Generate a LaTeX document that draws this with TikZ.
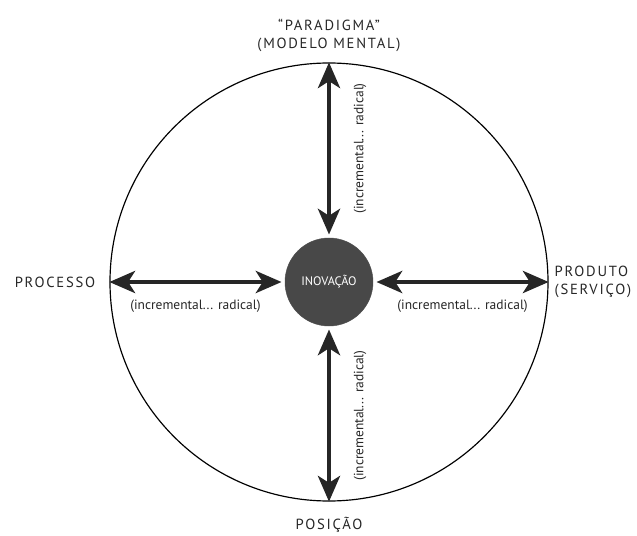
\documentclass[tikz,border=0pt]{standalone}
\usepackage{fontspec}
\setmainfont{PT Sans}
\usetikzlibrary{arrows.meta, positioning}
\definecolor{mydark}{RGB}{72, 72, 72}

\begin{document}
\begin{tikzpicture}[x=0.03cm, y=-0.03cm,
    twoway/.style={{Stealth[length=22pt, width=19pt, inset=6pt]}-{Stealth[length=22pt, width=19pt, inset=6pt]}, line width=3pt, draw=black!85},
    poletext/.style={font=\fontsize{12.5}{15}\selectfont\addfontfeatures{LetterSpace=12}, align=center, inner sep=1pt, text=black!85},
    rangelabel/.style={font=\fontsize{11.5}{13}\selectfont, inner sep=1pt, text=black!85}]
    \useasboundingbox (0,0) rectangle (637,536);

    % --- Outer circle ---
    \node[draw=black, line width=1pt, circle, minimum size=13.14cm] (outer) at (329, 282) {};

    % --- Innovation in the centre ---
    \node[circle, fill=mydark, draw=black!70, minimum size=2.64cm, outer sep=3pt, text=white, font=\fontsize{10.5}{12}\selectfont] (inner) at (329, 282) {INOVAÇÃO};

    % --- Four dimensions around the circle ---
    \node[poletext, above=8pt of outer] (paradigm) {“PARADIGMA”\\(MODELO MENTAL)};
    \node[poletext, below=12pt of outer] (position) {POSIÇÃO};
    \node[poletext, left=11pt of outer] (process) {PROCESSO};
    \node[poletext, right=4pt of outer, align=left] (product) {PRODUTO\\(SERVIÇO)};

    % --- Range arrows (incremental ... radical) ---
    \draw[twoway] (outer.west) -- node[midway, below=13pt, rangelabel] (procrange) {(incremental... radical)} (inner.west);
    \draw[twoway] (inner.east) -- node[midway, below=13pt, rangelabel] (prodrange) {(incremental... radical)} (outer.east);

    \draw[twoway] (outer.north) -- coordinate[midway] (midtop) (inner.north);
    \node[rangelabel, rotate=90, anchor=north] (pararange) at ([xshift=20pt]midtop) {(incremental... radical)};

    \draw[twoway] (inner.south) -- coordinate[midway] (midbottom) (outer.south);
    \node[rangelabel, rotate=90, anchor=north] (posrange) at ([xshift=20pt]midbottom) {(incremental... radical)};

\end{tikzpicture}
\end{document}
